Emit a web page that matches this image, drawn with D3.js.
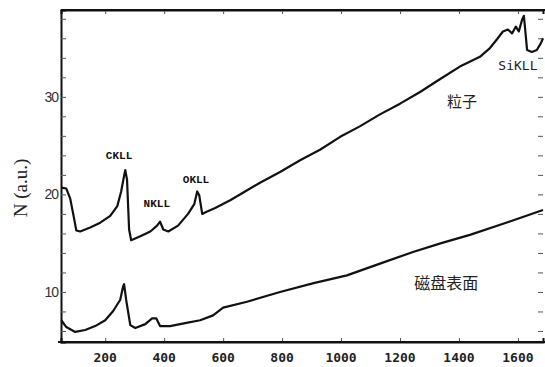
<!DOCTYPE html>
<html>
<head>
<meta charset="utf-8">
<script src="https://cdn.jsdelivr.net/npm/d3@7"></script>
<style>
  body { margin: 0; background: #fff; }
  svg { display: block; }
</style>
</head>
<body>
<div id="container"></div>
<script>
// spectrum of the particle (top curve)
const particleE = [51, 68, 81, 92, 102, 115, 149, 183, 217, 241, 254, 264, 268, 274, 281, 288, 319, 353, 376, 386, 397, 414, 447, 481, 502, 512, 519, 529, 542, 573, 624, 680, 725, 793, 861, 930, 997, 1065, 1132, 1200, 1268, 1335, 1403, 1471, 1505, 1529, 1549, 1566, 1580, 1593, 1603, 1614, 1620, 1624, 1631, 1647, 1664, 1678, 1685];
const particleN = [20.7, 20.6, 19.6, 17.9, 16.3, 16.2, 16.6, 17.1, 17.8, 18.8, 20.3, 21.9, 22.5, 21.5, 16.4, 15.3, 15.7, 16.2, 16.8, 17.2, 16.4, 16.2, 16.8, 18.0, 19.0, 20.3, 19.9, 18.0, 18.2, 18.6, 19.4, 20.4, 21.2, 22.3, 23.5, 24.6, 25.9, 27.0, 28.2, 29.3, 30.5, 31.8, 33.1, 34.1, 35.0, 35.9, 36.7, 36.9, 36.5, 37.2, 36.7, 37.9, 38.3, 37.1, 34.8, 34.6, 34.8, 35.5, 36.0];

// spectrum of the disk surface (bottom curve)
const surfaceE = [51, 68, 98, 132, 166, 200, 227, 251, 261, 264, 271, 285, 302, 336, 359, 373, 386, 420, 471, 522, 566, 600, 681, 793, 907, 1020, 1132, 1244, 1340, 1437, 1560, 1685];
const surfaceN = [7.1, 6.4, 5.9, 6.1, 6.5, 7.1, 8.05, 9.2, 10.6, 10.8, 9.2, 6.6, 6.3, 6.7, 7.3, 7.3, 6.5, 6.5, 6.8, 7.1, 7.6, 8.4, 9.0, 10.0, 10.9, 11.7, 12.9, 14.1, 15.0, 15.85, 17.1, 18.4];

const xTicks = [200, 400, 600, 800, 1000, 1200, 1400, 1600];
const yLabels = [10, 20, 30];
const yTicks = [6, 8, 10, 12, 14, 16, 18, 20, 22, 24, 26, 28, 30, 32, 34, 36, 38];

const peaks = [
  {t: 'CKLL', e: 247, n: 23.6},
  {t: 'NKLL', e: 375, n: 18.7},
  {t: 'OKLL', e: 508, n: 21.2}
];

const width = 545, height = 367;
const margins = {top: 10, bottom: 25, left: 61, right: 2};

const svg = d3.select('#container').append('svg')
    .attr('width', width)
    .attr('height', height);

const xScale = d3.scaleLinear()
    .domain([50, 1685])
    .range([margins.left, width - margins.right]);

const yScale = d3.scaleLinear()
    .domain([4.87, 38.9])
    .range([height - margins.bottom, margins.top]);

// inward tick marks on all four sides
const bottomAxis = d3.axisTop(xScale).tickValues(xTicks).tickSize(4).tickFormat('');
const topAxis = d3.axisBottom(xScale).tickValues(xTicks).tickSize(4).tickFormat('');
const leftAxis = d3.axisRight(yScale).tickValues(yTicks).tickSize(5).tickFormat('');
const rightAxis = d3.axisLeft(yScale).tickValues(yTicks).tickSize(5).tickFormat('');

svg.append('g').attr('transform', `translate(0, ${height - margins.bottom})`).call(bottomAxis);
svg.append('g').attr('transform', `translate(0, ${margins.top})`).call(topAxis);
svg.append('g').attr('transform', `translate(${margins.left}, 0)`).call(leftAxis);
const ra = svg.append('g').attr('transform', `translate(${width - margins.right}, 0)`).call(rightAxis);
ra.select('.domain').remove();

svg.selectAll('.tick line').attr('stroke', '#555').attr('stroke-width', 1);
svg.selectAll('.domain').attr('stroke', '#111').attr('stroke-width', 2);

// frame lines extending to the image edge
svg.append('line')
    .attr('x1', margins.left - 3).attr('x2', width)
    .attr('y1', yScale.range()[0]).attr('y2', yScale.range()[0])
    .attr('stroke', '#111').attr('stroke-width', 2);
svg.append('line')
    .attr('x1', margins.left).attr('x2', width)
    .attr('y1', margins.top).attr('y2', margins.top)
    .attr('stroke', '#111').attr('stroke-width', 2);

// tick labels
svg.append('g').selectAll('text')
    .data(xTicks)
    .enter()
    .append('text')
    .attr('x', d => xScale(d))
    .attr('y', 362)
    .attr('text-anchor', 'middle')
    .style('font-family', 'DejaVu Sans Mono')
    .style('font-weight', 'bold')
    .style('font-size', '13px')
    .style('fill', '#222')
    .text(d => d);

svg.append('g').selectAll('text')
    .data(yLabels)
    .enter()
    .append('text')
    .attr('x', margins.left - 3)
    .attr('y', d => yScale(d) + 5)
    .attr('text-anchor', 'end')
    .style('font-family', 'Liberation Sans')
    .style('font-size', '14px')
    .style('letter-spacing', '-1px')
    .style('fill', '#333')
    .text(d => d);

svg.append('text')
    .attr('text-anchor', 'middle')
    .attr('transform', 'translate(27, 188) rotate(-90)')
    .style('font-family', 'Liberation Serif')
    .style('font-size', '19px')
    .style('fill', '#222')
    .text('N (a.u.)');

// curves
const line = d3.line()
    .x(d => xScale(d[0]))
    .y(d => yScale(d[1]));

const particle = particleE.map((e, i) => [e, particleN[i]]);
const surface = surfaceE.map((e, i) => [e, surfaceN[i]]);

[particle, surface].forEach(series => {
    svg.append('path')
        .datum(series)
        .attr('d', line)
        .attr('fill', 'none')
        .attr('stroke', '#111')
        .attr('stroke-width', 2.2)
        .attr('stroke-linejoin', 'round');
});

// peak labels
svg.append('g').selectAll('text')
    .data(peaks)
    .enter()
    .append('text')
    .attr('x', d => xScale(d.e))
    .attr('y', d => yScale(d.n))
    .attr('text-anchor', 'middle')
    .style('font-family', 'Liberation Mono')
    .style('font-weight', 'bold')
    .style('font-size', '11px')
    .style('fill', '#111')
    .text(d => d.t);

svg.append('text')
    .attr('x', xScale(1600))
    .attr('y', yScale(32.8))
    .attr('text-anchor', 'middle')
    .style('font-family', 'DejaVu Sans Mono')
    .style('font-size', '13px')
    .style('fill', '#222')
    .text('SiKLL');

svg.append('text')
    .attr('x', xScale(1410))
    .attr('y', yScale(29))
    .attr('text-anchor', 'middle')
    .style('font-family', 'Noto Sans CJK SC')
    .style('font-size', '15px')
    .style('fill', '#222')
    .text('粒子');

svg.append('text')
    .attr('x', xScale(1357))
    .attr('y', yScale(10.3))
    .attr('text-anchor', 'middle')
    .style('font-family', 'Noto Sans CJK SC')
    .style('font-size', '16px')
    .style('fill', '#222')
    .text('磁盘表面');
</script>
</body>
</html>
